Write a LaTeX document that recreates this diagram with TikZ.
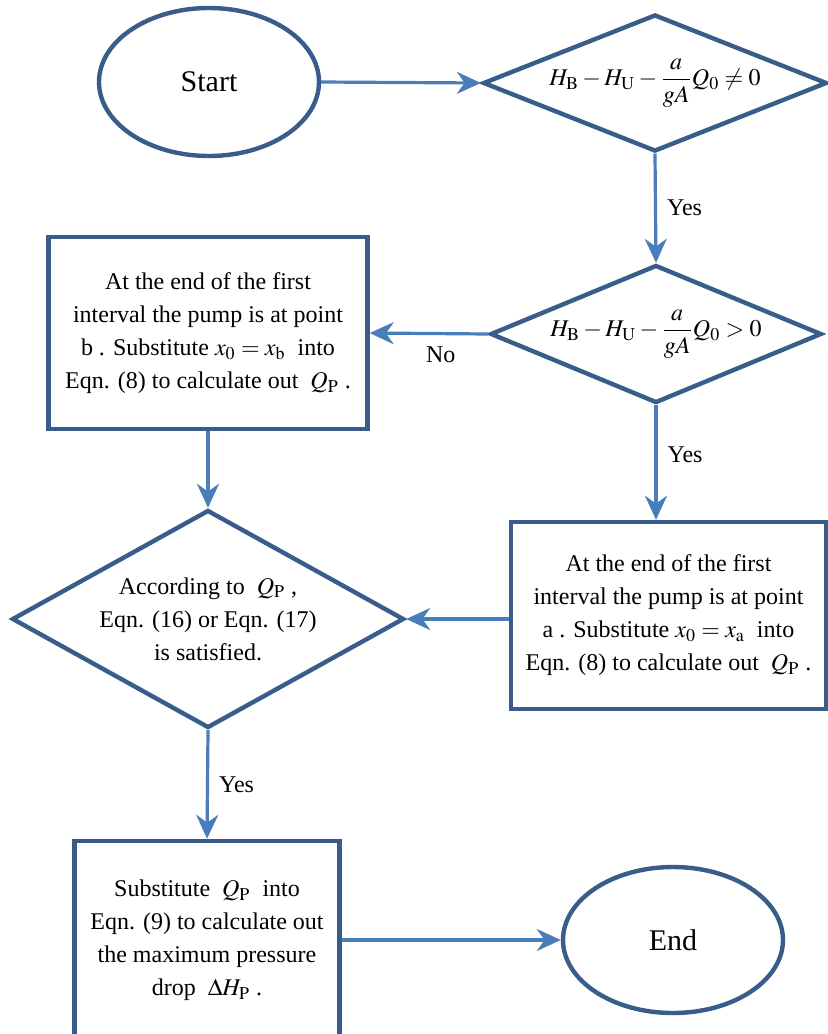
\documentclass[tikz,border=0pt]{standalone}
\usepackage{mathptmx}
\usepackage{fontspec}
\setmainfont{Liberation Serif}
\usetikzlibrary{arrows.meta,shapes.geometric}

\definecolor{shapeblue}{HTML}{385D8A}
\definecolor{linkblue}{HTML}{4A7EBB}

\begin{document}
\begin{tikzpicture}[
  x=0.5pt, y=-0.5pt,
  font=\fontsize{12}{16.5}\selectfont,
  box/.style={draw=shapeblue, line width=2.2pt, align=center, inner sep=0pt, fill=white},
  proc/.style={box, rectangle},
  cond/.style={box, diamond, aspect=2.5},
  term/.style={box, ellipse, font=\fontsize{15}{18}\selectfont},
  arrow/.style={-{Stealth[length=12pt,width=11pt]}, line width=1.6pt, draw=linkblue},
  note/.style={inner sep=2pt}
]
\useasboundingbox (0,0) rectangle (828,1034);

\node[term, minimum width=110pt, minimum height=74pt] (start) at (209,82) {Start};
\node[cond, minimum width=172pt, minimum height=68.5pt] (cond1) at (655,83)
  {$\displaystyle H_\mathrm{B}-H_\mathrm{U}-\frac{a}{gA}Q_0\neq 0$};
\node[cond, minimum width=165pt, minimum height=69pt] (cond2) at (656,334)
  {$\displaystyle H_\mathrm{B}-H_\mathrm{U}-\frac{a}{gA}Q_0> 0$};

\node[proc, minimum width=159.5pt, minimum height=96pt] (ptb) at (208,333)
  {At the end of the first\\interval the pump is at point\\b . Substitute $x_0=x_\mathrm{b}$\enspace into\\Eqn. (8) to calculate out\enspace $Q_\mathrm{P}$ .};
\node[proc, minimum width=157.5pt, minimum height=93.5pt] (pta) at (668.5,615.5)
  {At the end of the first\\interval the pump is at point\\a . Substitute $x_0=x_\mathrm{a}$\enspace into\\Eqn. (8) to calculate out\enspace $Q_\mathrm{P}$ .};
\node[cond, aspect=1.8, minimum width=196pt, minimum height=109pt] (check) at (208,619)
  {According to\enspace $Q_\mathrm{P}$ ,\\Eqn. (16) or Eqn. (17)\\is satisfied.};
\node[proc, minimum width=132.5pt, minimum height=99pt] (drop) at (207,940)
  {Substitute\enspace $Q_\mathrm{P}$\enspace into\\Eqn. (9) to calculate out\\the maximum pressure\\drop\enspace $\Delta H_\mathrm{P}$ .};
\node[term, minimum width=110pt, minimum height=73pt] (end) at (673,940) {End};

\draw[arrow] (start.east) -- (cond1.west);
\draw[arrow] (cond1.south) -- node[right=3pt, note] {Yes} (cond2.north);
\draw[arrow] (cond2.west) -- node[below=4pt, note, pos=0.4] {No} (ptb.east);
\draw[arrow] (cond2.south) -- node[right=3pt, note, pos=0.43] {Yes} (cond2.south |- pta.north);
\draw[arrow] (ptb.south) -- (check.north);
\draw[arrow] (pta.west |- check.east) -- (check.east);
\draw[arrow] (check.south) -- node[right=3pt, note] {Yes} (drop.north);
\draw[arrow] (drop.east) -- (end.west);

\end{tikzpicture}
\end{document}
